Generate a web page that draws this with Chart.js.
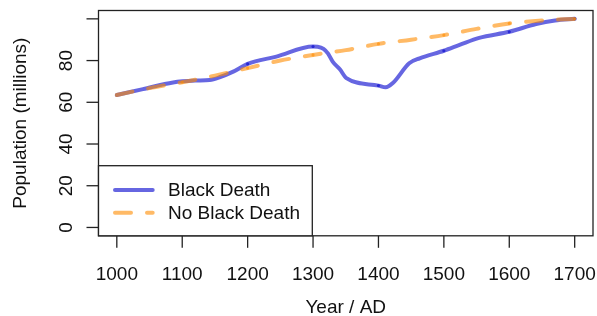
<!DOCTYPE html>
<html>
<head>
<meta charset="utf-8">
<script src="https://cdn.jsdelivr.net/npm/chart.js@4/dist/chart.umd.min.js"></script>
<style>
  html, body { margin: 0; padding: 0; background: #fff; }
  #wrap { width: 597px; height: 316px; }
</style>
</head>
<body>
<div id="wrap"><canvas id="popChart" width="597" height="316"></canvas></div>
<script>
// Population estimates (millions)
const blackDeathYears = [1000, 1040, 1086, 1120, 1142, 1157, 1178, 1200, 1244, 1300, 1307, 1316, 1323, 1330, 1341, 1351, 1400, 1411, 1422, 1447, 1463, 1500, 1524, 1554, 1600, 1641, 1670, 1700];
const blackDeathPop   = [63.5, 66.3, 69.5, 70.4, 70.7, 72.0, 74.7, 78.4, 81.9, 86.7, 86.6, 85.6, 83.3, 79.5, 75.8, 71.6, 68.0, 67.2, 69.2, 78.7, 81.1, 84.7, 87.5, 90.9, 93.8, 97.5, 99.2, 100];

const noBlackDeathYears = [1000, 1050, 1100, 1150, 1200, 1250, 1300, 1350, 1400, 1450, 1500, 1550, 1600, 1650, 1700];
const noBlackDeathPop   = [63.5, 66.8, 69.6, 72.8, 76.4, 80.0, 82.7, 85.0, 88.0, 90.0, 92.2, 95.2, 97.8, 99.2, 100];

const xTicks = [1000, 1100, 1200, 1300, 1400, 1500, 1600, 1700];
const yTicks = [0, 20, 40, 60, 80, 100];
const yTickLabels = ['0', '20', '40', '60', '80', ''];

const seriesNames = ['Black Death', 'No Black Death'];

const blueCol = 'rgba(0, 0, 205, 0.6)';
const orangeCol = 'rgba(255, 140, 0, 0.6)';
const FONT = '19px "Liberation Sans", Arial, sans-serif';

function toPoints(xs, ys) {
    return xs.map((x, i) => ({ x: x, y: ys[i] }));
}

// dots where the line segments overlap at each century
function centuryDot(ctx) {
    const p = ctx.raw;
    return (p && p.x % 100 === 0 && p.x > 1000) ? 1.6 : 0;
}

// R style axes, box and legend
const baseAxes = {
    id: 'baseAxes',
    afterDraw(chart) {
        const ctx = chart.ctx;
        const a = chart.chartArea;
        const xs = chart.scales.x;
        const ys = chart.scales.y;
        ctx.save();

        // box
        ctx.strokeStyle = '#222';
        ctx.lineWidth = 1.3;
        ctx.strokeRect(a.left, a.top, a.right - a.left, a.bottom - a.top);

        ctx.fillStyle = '#111';
        ctx.font = FONT;

        // x axis ticks
        ctx.textAlign = 'center';
        ctx.textBaseline = 'alphabetic';
        xTicks.forEach(t => {
            const px = xs.getPixelForValue(t);
            ctx.beginPath();
            ctx.moveTo(px, a.bottom);
            ctx.lineTo(px, a.bottom + 12);
            ctx.stroke();
            ctx.fillText(String(t), px, 280);
        });

        // y axis ticks
        yTicks.forEach((t, i) => {
            const py = ys.getPixelForValue(t);
            ctx.beginPath();
            ctx.moveTo(a.left, py);
            ctx.lineTo(a.left - 12, py);
            ctx.stroke();
            if (yTickLabels[i]) {
                ctx.save();
                ctx.translate(71.5, py);
                ctx.rotate(-Math.PI / 2);
                ctx.fillText(yTickLabels[i], 0, 0);
                ctx.restore();
            }
        });

        // axis titles
        ctx.fillText('Year / AD', (a.left + a.right) / 2, 313);
        ctx.save();
        ctx.translate(26, (a.top + a.bottom) / 2);
        ctx.rotate(-Math.PI / 2);
        ctx.fillText('Population (millions)', 0, 0);
        ctx.restore();

        // legend
        const lx = a.left, ly = 165.7, lw = 312.3 - a.left, lh = a.bottom - 165.7;
        ctx.fillStyle = '#fff';
        ctx.fillRect(lx, ly, lw, lh);
        ctx.strokeStyle = '#222';
        ctx.lineWidth = 1.3;
        ctx.strokeRect(lx, ly, lw, lh);

        const rows = [190, 212.7];
        chart.data.datasets.forEach((ds, i) => {
            ctx.strokeStyle = ds.borderColor;
            ctx.lineWidth = ds.borderWidth;
            ctx.lineCap = 'round';
            ctx.setLineDash(ds.borderDash || []);
            ctx.beginPath();
            ctx.moveTo(115, rows[i]);
            ctx.lineTo(152.7, rows[i]);
            ctx.stroke();
            ctx.setLineDash([]);
            ctx.fillStyle = '#111';
            ctx.textAlign = 'left';
            ctx.textBaseline = 'middle';
            ctx.fillText(ds.label, 168, rows[i] + 1);
        });

        ctx.restore();
    }
};

new Chart(document.getElementById('popChart'), {
    type: 'line',
    data: {
        datasets: [{
            label: seriesNames[0],
            data: toPoints(blackDeathYears, blackDeathPop),
            borderColor: blueCol,
            backgroundColor: blueCol,
            borderWidth: 4,
            borderCapStyle: 'round',
            borderJoinStyle: 'round',
            cubicInterpolationMode: 'monotone',
            pointRadius: centuryDot,
            pointBorderWidth: 0,
            pointBackgroundColor: blueCol,
            fill: false,
            order: 2
        }, {
            label: seriesNames[1],
            data: toPoints(noBlackDeathYears, noBlackDeathPop),
            borderColor: orangeCol,
            backgroundColor: orangeCol,
            borderWidth: 4,
            borderDash: [16, 16],
            borderCapStyle: 'round',
            borderJoinStyle: 'round',
            cubicInterpolationMode: 'monotone',
            pointRadius: centuryDot,
            pointBorderWidth: 0,
            pointBackgroundColor: orangeCol,
            fill: false,
            order: 1
        }]
    },
    options: {
        responsive: false,
        animation: false,
        devicePixelRatio: 1,
        layout: {
            padding: { left: 98.5, right: 3.5, top: 10.5, bottom: 80.2 }
        },
        scales: {
            x: { type: 'linear', min: 972, max: 1728, display: false },
            y: { type: 'linear', min: -4, max: 104, display: false }
        },
        plugins: {
            legend: { display: false },
            tooltip: { enabled: false }
        }
    },
    plugins: [baseAxes]
});
</script>
</body>
</html>
